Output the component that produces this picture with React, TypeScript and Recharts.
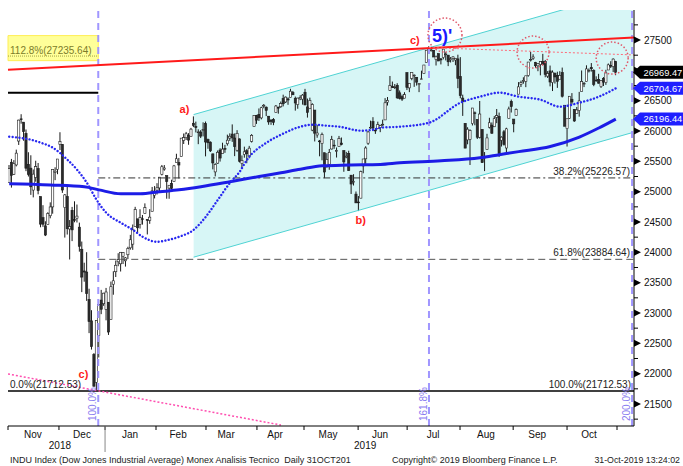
import React from 'react';
import {
  ComposedChart, Bar, Line, Area, XAxis, YAxis,
  ReferenceLine, ReferenceDot, ReferenceArea,
} from 'recharts';

type C = [number, number, number, number]; // open, high, low, close

// Daily candles, index 0 = 1-Nov-2018
const nov18: C[] = [
  [25151,25439,25151,25380],[25485,25540,25067,25270],[25287,25520,25276,25461],[25441,25693,25417,25635],
  [25835,26186,25770,26180],[26200,26277,26121,26191],[26146,26146,25840,25989],[25960,26025,25338,25387],
  [25450,25650,25250,25286],[25388,25600,24947,25080],[25026,25366,24906,25289],[25234,25510,25164,25413],
  [25379,25473,24956,25017],[24919,24919,24413,24465],[24571,24777,24420,24464],[24437,24512,24268,24285],
  [24456,24661,24456,24640],[24603,24824,24561,24748],[24749,25366,24637,25366],[25319,25402,25190,25338],
  [25368,25538,25288,25538],
];
const dec18: C[] = [
  [25780,25980,25687,25826],[25780,25781,24980,25027],[24737,24961,24243,24947],[24918,25095,24293,24389],
  [24385,24532,23882,24423],[24693,24749,24185,24370],[24540,24841,24495,24527],[24563,24788,24492,24597],
  [24415,24490,24011,24100],[24051,24178,23344,23592],[23693,23829,23516,23675],[23675,24002,23200,23323],
  [23225,23400,22668,22859],[22871,23046,22397,22445],[22317,22339,21792,21792],[21857,22878,21712,22878],
  [22629,23138,22267,23138],[23213,23381,22981,23062],[23153,23333,23118,23327],
];
const jan19: C[] = [
  [23058,23413,22879,23346],[23177,23177,22638,22686],[22894,23518,22894,23433],[23474,23688,23301,23531],
  [23680,23865,23593,23787],[23844,23985,23771,23879],[23811,24002,23684,24001],[23936,24003,23807,23996],
  [23860,23922,23765,23910],[23960,24092,23889,24065],[24074,24288,24044,24207],[24135,24459,24041,24370],
  [24425,24750,24425,24706],[24552,24552,24325,24404],[24462,24710,24392,24575],[24554,24616,24457,24553],
  [24640,24807,24640,24737],[24543,24544,24295,24528],[24527,24711,24470,24580],[24677,25078,24677,25014],
  [24938,25092,24889,24999],
];
const feb19: C[] = [
  [25025,25140,24953,25064],[25062,25239,24992,25239],[25287,25440,25268,25411],[25371,25439,25345,25390],
  [25265,25265,24884,25169],[25059,25106,24883,25106],[25138,25197,25011,25053],[25168,25441,25168,25425],
  [25478,25625,25478,25543],[25481,25557,25217,25439],[25580,25883,25580,25883],[25845,25959,25786,25891],
  [25890,25985,25852,25954],[25930,25965,25773,25850],[25907,26052,25906,26031],[26128,26241,26064,26091],
  [26073,26155,25977,26057],[25976,26028,25783,25985],[25984,26014,25884,25916],
];
const mar19: C[] = [
  [26019,26143,25911,26026],[26122,26156,25582,25819],[25858,25875,25707,25806],[25817,25829,25654,25673],
  [25624,25624,25368,25473],[25326,25468,25252,25450],[25470,25680,25458,25650],[25687,25716,25496,25554],
  [25626,25807,25626,25702],[25712,25772,25640,25709],[25790,25940,25759,25849],[25883,25962,25837,25914],
  [25950,26109,25821,25887],[25884,25960,25586,25745],[25683,26014,25658,25962],[25870,25877,25481,25502],
  [25466,25597,25385,25516],[25614,25742,25560,25657],[25675,25702,25469,25626],[25589,25755,25550,25717],
  [25830,25949,25810,25929],
];
const apr19: C[] = [
  [26076,26259,26076,26258],[26258,26266,26117,26179],[26275,26372,26166,26218],[26216,26400,26192,26384],
  [26410,26445,26375,26425],[26393,26405,26246,26341],[26244,26245,26103,26150],[26181,26192,26102,26157],
  [26192,26213,26096,26143],[26303,26429,26303,26412],[26390,26402,26286,26384],[26400,26486,26383,26452],
  [26535,26599,26406,26449],[26479,26569,26463,26559],[26530,26555,26432,26511],[26552,26696,26552,26656],
  [26633,26660,26596,26597],[26540,26568,26336,26462],[26434,26548,26367,26543],[26530,26590,26509,26554],
  [26525,26609,26435,26592],
];
const may19: C[] = [
  [26639,26695,26425,26430],[26397,26535,26221,26307],[26367,26550,26367,26505],[26015,26458,25997,26438],
  [26346,26346,25828,25965],[25935,26102,25889,25967],[25836,25853,25583,25828],[25795,25974,25517,25942],
  [25642,25642,25223,25324],[25409,25636,25399,25532],[25452,25704,25361,25648],[25704,25920,25694,25862],
  [25767,25853,25706,25764],[25677,25729,25563,25679],[25745,25919,25745,25877],[25801,25893,25764,25776],
  [25678,25678,25328,25490],[25570,25656,25551,25586],[25628,25675,25341,25347],[25272,25272,24962,25126],
  [25168,25288,25102,25169],[24960,25003,24815,24815],
];
const jun19: C[] = [
  [24830,24928,24680,24819],[24893,25347,24893,25332],[25424,25539,25303,25539],[25542,25749,25460,25720],
  [25799,26001,25772,25984],[26058,26171,26036,26062],[26155,26228,25998,26048],[26014,26049,25953,26004],
  [26042,26154,26041,26106],[26054,26102,25981,26090],[26104,26187,26086,26112],[26183,26542,26183,26465],
  [26475,26560,26420,26504],[26669,26907,26660,26753],[26732,26815,26709,26719],[26715,26775,26692,26727],
  [26753,26788,26529,26548],[26629,26669,26520,26536],[26566,26600,26496,26526],[26541,26640,26541,26600],
];
const jul19: C[] = [
  [26963,26963,26675,26718],[26711,26787,26641,26787],[26868,26966,26837,26966],[26912,26932,26728,26922],
  [26886,26886,26749,26806],[26767,26786,26641,26783],[26857,26995,26857,26860],[26951,27089,26951,27088],
  [27132,27332,27132,27332],[27350,27398,27301,27359],[27322,27389,27311,27336],[27331,27334,27220,27220],
  [27179,27244,27080,27223],[27276,27276,27154,27154],[27189,27203,27098,27172],[27211,27350,27182,27350],
  [27267,27299,27164,27270],[27251,27251,27070,27141],[27174,27219,27130,27192],[27197,27232,27138,27222],
  [27170,27204,27085,27199],[27189,27258,26706,26865],
];
const aug19: C[] = [
  [26898,27218,26539,26583],[26543,26599,26249,26485],[26127,26127,25718,25718],[25853,26062,25781,26030],
  [25862,26028,25440,26008],[26122,26380,26091,26379],[26300,26322,26095,26287],[26190,26190,25868,25898],
  [25897,26495,25877,26280],[26028,26028,25475,25479],[25555,25653,25339,25579],[25697,25954,25697,25886],
  [26062,26218,26042,26136],[26098,26141,25956,25963],[26070,26246,26070,26203],[26225,26363,26130,26253],
  [26241,26304,25574,25629],[25848,25912,25744,25899],[25988,26017,25759,25778],[25720,26054,25650,26036],
  [26210,26402,26210,26363],[26487,26519,26305,26403],
];
const sep19: C[] = [
  [26197,26197,25979,26118],[26255,26372,26255,26356],[26607,26806,26607,26728],[26771,26830,26725,26797],
  [26818,26886,26780,26835],[26816,26910,26723,26910],[26915,27137,26895,27137],[27176,27306,27146,27182],
  [27196,27266,27172,27220],[27129,27140,27040,27076],[27074,27111,26986,27111],[27095,27151,26918,27147],
  [27146,27272,27094,27094],[27147,27171,26886,26935],[26905,26988,26874,26949],[26991,27079,26736,26808],
  [26798,26999,26659,26970],[26952,26965,26782,26891],[26918,26978,26711,26820],[26854,26986,26854,26917],
];
const oct19: C[] = [
  [26962,27046,26552,26573],[26425,26425,26079,26079],[26039,26202,25744,26202],[26209,26574,26200,26573],
  [26524,26625,26437,26478],[26357,26357,26151,26165],[26290,26396,26290,26347],[26338,26645,26237,26497],
  [26655,26998,26655,26817],[26785,26809,26724,26787],[26817,27083,26817,27024],[26999,27031,26965,27002],
  [27045,27120,26980,27026],[26995,27017,26739,26770],[26840,26902,26812,26828],[26850,26943,26781,26789],
  [26731,26837,26710,26834],[26866,26889,26742,26806],[26798,27009,26761,26958],[27006,27113,27006,27091],
  [27082,27151,27039,27071],[27062,27198,26972,27186],[27146,27157,26920,26969.47],
];
const candles: C[] = [...nov18, ...dec18, ...jan19, ...feb19, ...mar19, ...apr19, ...may19, ...jun19, ...jul19, ...aug19, ...sep19, ...oct19];

// Moving averages: [day index, value]
const ma200Pts: [number, number][] = [
  [0,25130],[17,25110],[31,25080],[37,25030],[46,24965],[54,24965],[62,24998],[70,25031],[79,25081],
  [91,25163],[103,25250],[112,25312],[120,25370],[129,25427],[140,25440],[153,25450],[161,25477],
  [178,25510],[194,25560],[202,25610],[210,25660],[223,25745],[235,25900],[243,26050],[250,26196.44],
];
const ma50Pts: [number, number][] = [
  [0,25906],[4,25890],[9,25856],[13,25807],[18,25725],[24,25526],[28,25361],[32,25147],[36,24866],
  [40,24652],[46,24487],[51,24371],[55,24256],[61,24173],[65,24200],[70,24256],[76,24371],[81,24586],
  [86,24866],[91,25147],[95,25330],[98,25526],[106,25807],[112,25939],[120,26071],[125,26104],[131,26087],
  [136,26071],[145,26005],[150,26022],[153,26054],[161,26071],[173,26137],[186,26467],[194,26566],
  [202,26632],[210,26566],[219,26516],[227,26401],[235,26467],[243,26566],[250,26704.67],
];
// Trend channel: [index, lower, upper]
const channelPts: [number, number, number][] = [[76, 23920, 26271], [257, 25976, 28326]];
const resistance: [number, number][] = [[-0.5, 27011], [257.5, 27540]];
const resistanceDotted: [number, number][] = [[173, 27375], [257.5, 27254]];
const pinkTrend: [number, number][] = [[-0.5, 21995], [112, 21153]];

const fibStart = 36.7;
const fibLevels = [
  { v: 25226.57, text: '38.2%(25226.57)', dash: '7 3 2 3', color: '#333' },
  { v: 23884.64, text: '61.8%(23884.64)', dash: '7 4', color: '#555' },
];
const zeroLevel = 21712.53;
const extLevel = 27235.64;
const extBox: [number, number] = [27160, 27573];
const shortLevel = 26632;
const timeLines = [
  { i: 36.7, text: '100.0%' },
  { i: 173, text: '161.8%' },
  { i: 256.7, text: '200.0%' },
];
const waveLabels = [
  { i: 76, v: 26241, text: 'a)', dx: -14, dy: -3, color: '#ff1a1a', size: 11 },
  { i: 144, v: 24680, text: 'b)', dx: -3, dy: 13, color: '#ff1a1a', size: 11 },
  { i: 36, v: 21712.53, text: 'c)', dx: -18, dy: -13, color: '#ff1a1a', size: 11 },
  { i: 173, v: 27398, text: 'c)', dx: -19, dy: -2, color: '#ff1a1a', size: 11 },
  { i: 173, v: 27398, text: "5)'", dx: 3, dy: -4, color: '#1a1aff', size: 18 },
];
const circles: [number, number, number][] = [[179.6, 27582, 17], [215.9, 27302, 16], [248.5, 27203, 16]];
const tags = [
  { v: 26969.47, text: '26969.47', bg: '#000000' },
  { v: 26704.67, text: '26704.67', bg: '#1f1fff' },
  { v: 26196.44, text: '26196.44', bg: '#1f1fff' },
];
const yMajor = [21500, 22000, 22500, 23000, 23500, 24000, 24500, 25000, 25500, 26000, 26500, 27000, 27500];
const yMinor = [21250, 21750, 22250, 22750, 23250, 23750, 24250, 24750, 25250, 25750, 26250, 26750, 27250, 27750];
const hiddenYLabels = [27000];
const monthBounds = [-0.5, 20.5, 39.5, 60.5, 81.1, 102.1, 121.5, 143.8, 164, 185.8, 207.7, 229.9, 250.5];
const yearBoundary = 39.5;
const monthNames = ['Nov', 'Dec', 'Jan', 'Feb', 'Mar', 'Apr', 'May', 'Jun', 'Jul', 'Aug', 'Sep', 'Oct'];
const monthLabelPos = [9.8, 30, 49.8, 69.6, 89.4, 109.6, 131.4, 152.8, 174.7, 196.5, 217.6, 239];
const yearLabels: [number, string][] = [[20.9, '2018'], [146.7, '2019']];

const W = 683, H = 466;
const FONT = '"Liberation Sans", Arial, sans-serif';
const Y_DOMAIN: [number, number] = [21137, 27995];
const X_DOMAIN: [number, number] = [-0.5, 257.5];

const rows: any[] = [];
for (let i = 0; i <= 257; i++) rows.push({ i });
candles.forEach((d, i) => {
  Object.assign(rows[i], { o: d[0], h: d[1], l: d[2], c: d[3], hl: [d[2], d[1]] });
});
ma200Pts.forEach(([i, v]) => { rows[i].ma200 = v; });
ma50Pts.forEach(([i, v]) => { rows[i].ma50 = v; });
channelPts.forEach(([i, lo, hi]) => { rows[i].ch = [lo, hi]; });

const Candle = (p: any) => {
  const { x, y, width, height, payload } = p;
  if (!payload || payload.o == null || y == null || isNaN(y)) return <g />;
  const { o, h, l, c } = payload;
  const top = Math.min(y, y + height);
  const bot = Math.max(y, y + height);
  const py = (v: number) => (h === l ? top : top + ((h - v) / (h - l)) * (bot - top));
  const cx = x + (width || 0) / 2;
  const up = c >= o;
  const bt = py(Math.max(o, c));
  const bb = py(Math.min(o, c));
  return (
    <g>
      <line x1={cx} x2={cx} y1={top} y2={bot} stroke="#1a1a1a" strokeWidth={1} />
      <rect x={cx - 1.1} y={bt} width={2.2} height={Math.max(bb - bt, 0.8)}
        fill={up ? '#ffffff' : '#2b2b2b'} stroke="#1a1a1a" strokeWidth={0.6} />
    </g>
  );
};

const YTick = (p: any) => {
  const { x, y, payload } = p;
  const v = payload.value;
  const tag = tags.find((t) => t.v === v);
  if (tag) {
    return (
      <g>
        <path d={`M${x - 1},${y} L${x + 6},${y - 6.5} H${x + 70} V${y + 6.5} H${x + 6} Z`} fill={tag.bg} />
        <text x={x + 9.5} y={y + 3.4} fill="#fff" fontSize={9.3} fontFamily={FONT}>{tag.text}</text>
      </g>
    );
  }
  if (yMajor.includes(v)) {
    return (
      <g>
        <path d={`M${x},${y - 3.5} L${x + 7},${y} L${x},${y + 3.5} Z`} fill="#000" />
        {!hiddenYLabels.includes(v) && (
          <text x={x + 10} y={y + 3.6} fill="#111" fontSize={10} fontFamily={FONT}>{v}</text>
        )}
      </g>
    );
  }
  return <line x1={x} x2={x + 4} y1={y} y2={y} stroke="#000" />;
};

const XTick = (p: any) => {
  const { x, y, payload } = p;
  const v = payload.value;
  if (monthBounds.includes(v)) {
    return (
      <g>
        <line x1={x} x2={x} y1={y} y2={y + 4} stroke="#000" />
        {v === yearBoundary && <line x1={x} x2={x} y1={y} y2={y + 26} stroke="#888" />}
      </g>
    );
  }
  const mi = monthLabelPos.indexOf(v);
  if (mi >= 0) {
    return <text x={x} y={y + 12} textAnchor="middle" fontSize={10} fontFamily={FONT} fill="#111">{monthNames[mi]}</text>;
  }
  const yl = yearLabels.find((d) => d[0] === v);
  if (yl) {
    return <text x={x} y={y + 23} textAnchor="middle" fontSize={10} fontFamily={FONT} fill="#111">{yl[1]}</text>;
  }
  return <g />;
};

const xTicks = [...monthBounds, ...monthLabelPos, ...yearLabels.map((d) => d[0])];
const yTicks = [...yMajor, ...yMinor, ...tags.map((t) => t.v)];

const textShape = (text: string, dx: number, dy: number, opts: any = {}) => (p: any) => (
  <text x={p.cx + dx} y={p.cy + dy} fontFamily={FONT} fontSize={opts.size || 10}
    fontWeight={opts.weight || 'normal'} fill={opts.color || '#222'} textAnchor={opts.anchor || 'start'}>
    {text}
  </text>
);

export default function App() {
  return (
    <div style={{ position: 'absolute', left: 0, top: 0, width: W, height: H, overflow: 'hidden', background: '#fff' }}>
      <ComposedChart width={W} height={H} data={rows} margin={{ top: 10, right: 0, bottom: 0, left: 8 }}>
        <XAxis dataKey="i" type="number" domain={X_DOMAIN} allowDataOverflow ticks={xTicks} interval={0}
          tick={XTick} tickLine={false} tickSize={0} tickMargin={0} height={40} axisLine={{ stroke: '#000' }} />
        <YAxis orientation="right" width={49} domain={Y_DOMAIN} allowDataOverflow ticks={yTicks} interval={0}
          tick={YTick} tickLine={false} tickSize={0} tickMargin={0} axisLine={{ stroke: '#000' }} />

        <Area dataKey="ch" connectNulls type="linear" stroke="none" fill="#d7f6f6" fillOpacity={1}
          dot={false} activeDot={false} isAnimationActive={false} />

        <ReferenceArea x1={-0.5} x2={fibStart} y1={extBox[0]} y2={extBox[1]} fill="#ffff99" fillOpacity={1} stroke="#ffee55" />
        <ReferenceLine segment={[{ x: -0.5, y: extLevel }, { x: fibStart, y: extLevel }]} stroke="#a0a040" strokeDasharray="1 1" />
        <ReferenceDot x={-0.5} y={extLevel} r={0} shape={textShape('112.8%(27235.64)', 2, -2, { color: '#7b7b2b' })} />
        <ReferenceLine segment={[{ x: -0.5, y: shortLevel }, { x: fibStart, y: shortLevel }]} stroke="#000" strokeWidth={2} />

        {fibLevels.map((f) => (
          <ReferenceLine key={f.text} segment={[{ x: fibStart, y: f.v }, { x: 257.5, y: f.v }]}
            stroke={f.color} strokeDasharray={f.dash} strokeWidth={1} />
        ))}
        {fibLevels.map((f) => (
          <ReferenceDot key={'l' + f.text} x={257.5} y={f.v} r={0}
            shape={textShape(f.text, -4, -3, { anchor: 'end', color: '#222' })} />
        ))}
        <ReferenceLine y={zeroLevel} stroke="#000" strokeWidth={1.5} />
        <ReferenceDot x={-0.5} y={zeroLevel} r={0} shape={textShape('0.0%(21712.53)', 2, -3)} />
        <ReferenceDot x={257.5} y={zeroLevel} r={0} shape={textShape('100.0%(21712.53)', -3, -3, { anchor: 'end' })} />

        <ReferenceLine segment={[{ x: channelPts[0][0], y: channelPts[0][1] }, { x: channelPts[1][0], y: channelPts[1][1] }]}
          stroke="#4fd3d3" strokeWidth={1} ifOverflow="hidden" />
        <ReferenceLine segment={[{ x: channelPts[0][0], y: channelPts[0][2] }, { x: channelPts[1][0], y: channelPts[1][2] }]}
          stroke="#4fd3d3" strokeWidth={1} ifOverflow="hidden" />

        <ReferenceLine segment={[{ x: pinkTrend[0][0], y: pinkTrend[0][1] }, { x: pinkTrend[1][0], y: pinkTrend[1][1] }]}
          stroke="#ff4fb0" strokeWidth={1.5} strokeDasharray="2 2" ifOverflow="hidden" />

        {timeLines.map((t) => (
          <ReferenceLine key={t.text} x={t.i} stroke="#a096ff" strokeWidth={2} strokeDasharray="7 5" />
        ))}

        <Bar dataKey="hl" barSize={2} shape={Candle} isAnimationActive={false} />

        <Line dataKey="ma200" connectNulls type="monotone" stroke="#1c1ce6" strokeWidth={3}
          dot={false} activeDot={false} isAnimationActive={false} />
        <Line dataKey="ma50" connectNulls type="monotone" stroke="#2828f0" strokeWidth={2.4}
          strokeDasharray="0.01 3.4" strokeLinecap="round" dot={false} activeDot={false} isAnimationActive={false} />

        <ReferenceLine segment={[{ x: resistance[0][0], y: resistance[0][1] }, { x: resistance[1][0], y: resistance[1][1] }]}
          stroke="#ff1a1a" strokeWidth={2} />
        <ReferenceLine segment={[{ x: resistanceDotted[0][0], y: resistanceDotted[0][1] }, { x: resistanceDotted[1][0], y: resistanceDotted[1][1] }]}
          stroke="#ff6a78" strokeWidth={1} strokeDasharray="2 2" />

        {timeLines.map((t) => (
          <ReferenceDot key={'t' + t.text} x={t.i} y={Y_DOMAIN[0]} r={0}
            shape={(p: any) => (
              <text transform={`translate(${p.cx - 2},${p.cy - 5}) rotate(-90)`} fontFamily={FONT} fontSize={10} fill="#8a7cf0">
                {t.text}
              </text>
            )} />
        ))}

        {circles.map(([i, v, r], k) => (
          <ReferenceDot key={'c' + k} x={i} y={v} r={r}
            shape={(p: any) => <circle cx={p.cx} cy={p.cy} r={r} fill="none" stroke="#e0586a" strokeWidth={1.5} strokeDasharray="1.5 2" />} />
        ))}

        {waveLabels.map((w, k) => (
          <ReferenceDot key={'w' + k} x={w.i} y={w.v} r={0}
            shape={textShape(w.text, w.dx, w.dy, { color: w.color, size: w.size, weight: 'bold' })} />
        ))}
      </ComposedChart>
      <svg width={W} height={H} style={{ position: 'absolute', left: 0, top: 0, pointerEvents: 'none' }}>
        <text x={10} y={463} fontFamily={FONT} fontSize={9} fill="#222" style={{ whiteSpace: 'pre' }}>
          INDU Index (Dow Jones Industrial Average) Monex Analisis Tecnico  Daily 31OCT201
        </text>
        <text x={392} y={463} fontFamily={FONT} fontSize={9} fill="#222">Copyright© 2019 Bloomberg Finance L.P.</text>
        <text x={680} y={463} fontFamily={FONT} fontSize={8.8} fill="#222" textAnchor="end">31-Oct-2019 13:24:02</text>
      </svg>
    </div>
  );
}
